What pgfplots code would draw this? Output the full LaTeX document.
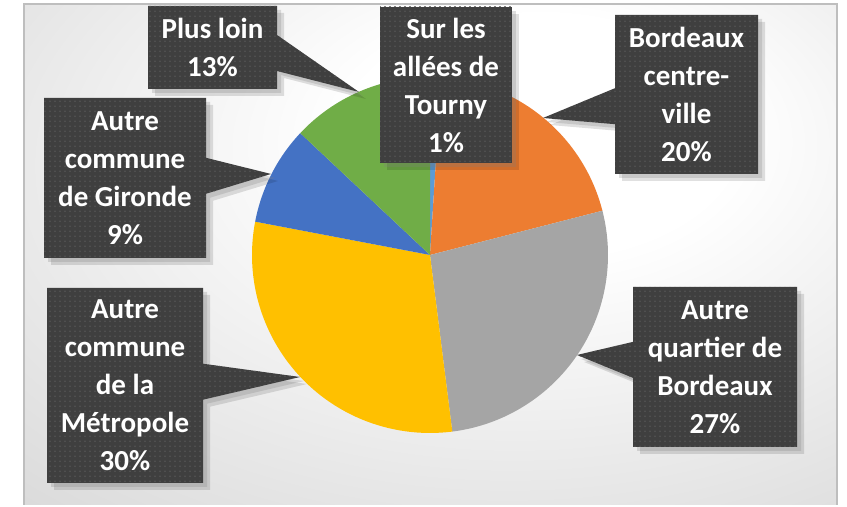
\documentclass[border=0pt]{standalone}
\usepackage{pgfplots}
\pgfplotsset{compat=1.18}
\usepackage{pgfplotstable}
\usepackage{fontspec}
\setmainfont{Carlito}
\usetikzlibrary{shapes.callouts,shadows,patterns.meta}

\definecolor{cA}{HTML}{5B9BD5}
\definecolor{cB}{HTML}{ED7D31}
\definecolor{cC}{HTML}{A5A5A5}
\definecolor{cD}{HTML}{FFC000}
\definecolor{cE}{HTML}{4472C4}
\definecolor{cF}{HTML}{70AD47}
\definecolor{boxc}{HTML}{3F3F3F}
\definecolor{bgm}{RGB}{222,222,222}
\definecolor{bge}{RGB}{200,200,200}
\definecolor{framec}{RGB}{190,190,190}

\pgfdeclareradialshading{bgshade}{\pgfpoint{8bp}{14bp}}{%
  color(0bp)=(white); color(12bp)=(white); color(40bp)=(bgm);
  color(58bp)=(bge); color(80bp)=(bge)}

% share of each place, clockwise from 12 o'clock
\pgfplotstableread{
v  c
1  cA
20 cB
27 cC
30 cD
9  cE
13 cF
}\piedata

\tikzset{
  boxbase/.style={fill=boxc, text=white, align=center,
    font=\bfseries\fontsize{14.5}{19}\selectfont, inner sep=0pt,
    preaction={fill=black, opacity=0.12, transform canvas={xshift=3.5pt, yshift=-3.5pt}},
    drop shadow={opacity=0.25, shadow xshift=2pt, shadow yshift=-2pt},
    postaction={pattern={Dots[radius=0.4pt, distance=2.5pt]},
      pattern color=white!12!boxc}},
  lbl/.style={rectangle callout, callout pointer width=18pt, boxbase},
  box/.style={rectangle, boxbase},
}

\begin{document}
\begin{tikzpicture}
\begin{axis}[
  x=0.5pt, y=0.5pt,
  xmin=0, xmax=847, ymin=0, ymax=505,
  hide axis, clip=false,
]
% background panel
\fill[white] (axis cs:0,0) rectangle (axis cs:847,505);
\shade[shading=bgshade] (axis cs:24,0) rectangle (axis cs:837,501);
\draw[framec, line width=1.3pt] (axis cs:24,0) -- (axis cs:24,501)
  -- (axis cs:837,501) -- (axis cs:837,0);

% pie slices from the table
\def\R{89pt}
\gdef\acc{90}
\pgfplotsforeachungrouped \i in {0,...,5}{%
  \pgfplotstablegetelem{\i}{v}\of\piedata\let\val\pgfplotsretval
  \pgfplotstablegetelem{\i}{c}\of\piedata\let\col\pgfplotsretval
  \pgfmathsetmacro\nxt{\acc-3.6*\val}%
  \edef\temp{\noexpand\fill[\col] (axis cs:430,250) -- ++(\acc:\R)
    arc[start angle=\acc, end angle=\nxt, radius=\R] -- cycle;}%
  \temp
  \global\let\acc\nxt
}

% labels
\node[lbl, minimum width=64.5pt, minimum height=41.5pt,
  callout absolute pointer={(axis cs:359,413)}]
  at (axis cs:212.5,457.5) {Plus loin\\13\%};
\node[box, minimum width=66pt, minimum height=78pt]
  at (axis cs:446,420) {Sur les\\allées de\\Tourny\\1\%};
\node[lbl, minimum width=71.5pt, minimum height=79.5pt,
  callout absolute pointer={(axis cs:543,387)}]
  at (axis cs:686.5,410.5) {Bordeaux\\centre-\\ville\\20\%};
\node[lbl, minimum width=82pt, minimum height=80pt,
  callout absolute pointer={(axis cs:577,150)}]
  at (axis cs:715,138) {Autre\\quartier de\\Bordeaux\\27\%};
\node[lbl, minimum width=78pt, minimum height=97.5pt,
  callout absolute pointer={(axis cs:300,128)}]
  at (axis cs:125,119.5) {Autre\\commune\\de la\\Métropole\\30\%};
\node[lbl, minimum width=81pt, minimum height=80pt,
  callout absolute pointer={(axis cs:271,331)}]
  at (axis cs:125,327) {Autre\\commune\\de Gironde\\9\%};
\end{axis}
\end{tikzpicture}
\end{document}
